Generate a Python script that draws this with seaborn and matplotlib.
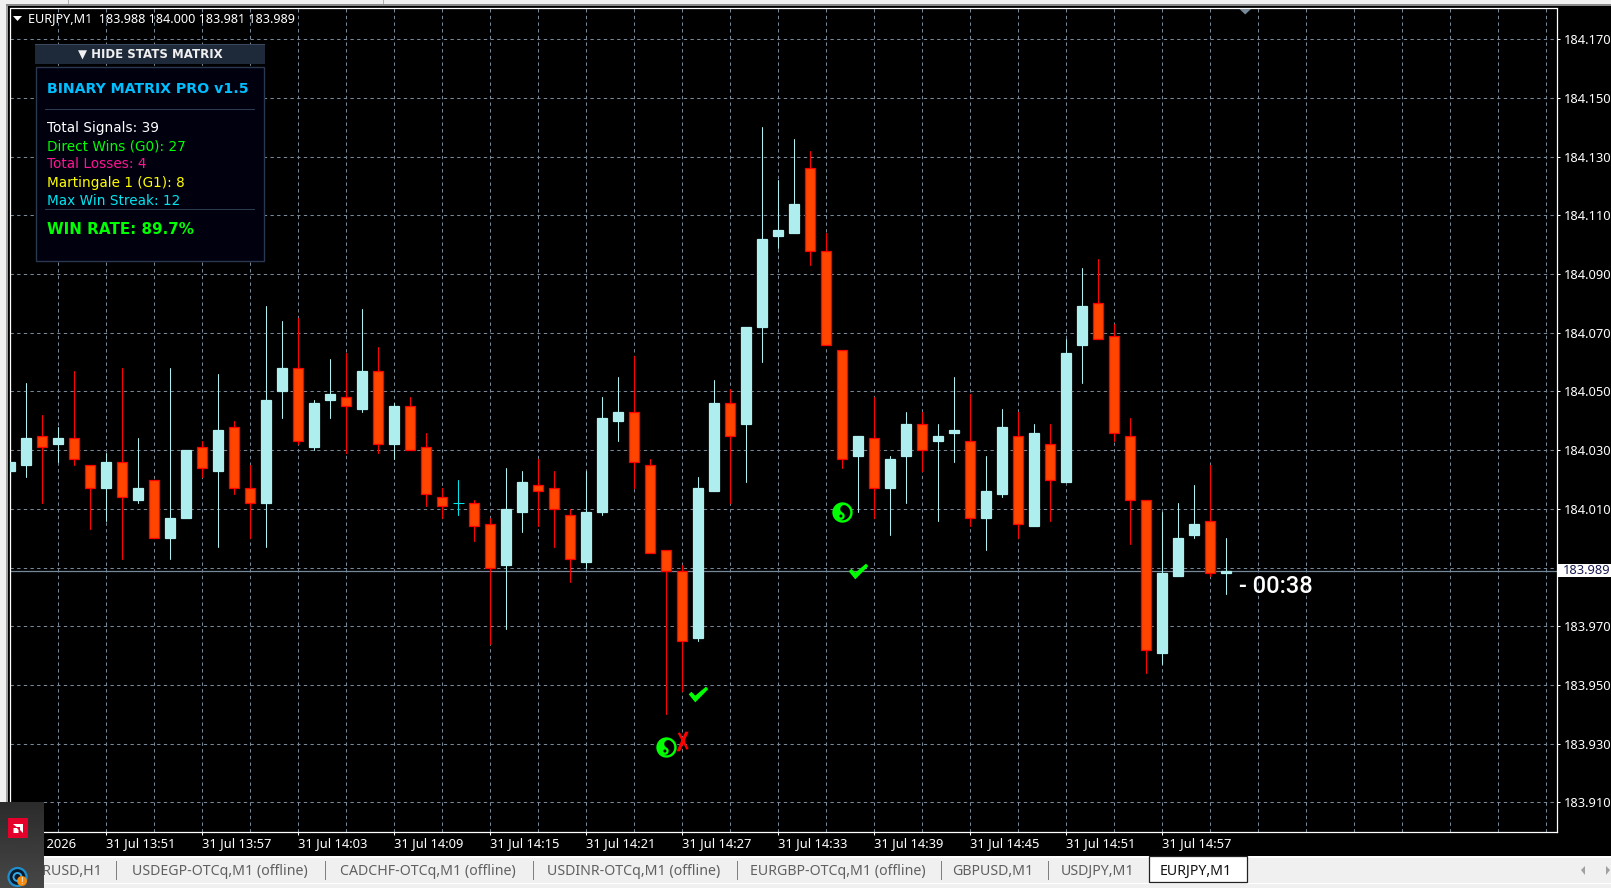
import matplotlib
matplotlib.use('Agg')
import matplotlib.pyplot as plt
from matplotlib.patches import Rectangle, Polygon, Circle
from matplotlib.path import Path
import numpy as np
import pandas as pd
import seaborn as sns

W, H = 1611, 888

opens = [184.023, 184.025, 184.035, 184.032, 184.034, 184.025, 184.017, 184.026, 184.013, 184.020,
         184.000, 184.007, 184.031, 184.023, 184.038, 184.017, 184.012, 184.050, 184.058, 184.031,
         184.047, 184.048, 184.044, 184.057, 184.032, 184.045, 184.031, 184.014, 184.012, 184.012,
         184.005, 183.991, 184.009, 184.018, 184.017, 184.008, 183.992, 184.009, 184.040, 184.043,
         184.025, 183.996, 183.989, 183.966, 184.016, 184.046, 184.039, 184.072, 184.103, 184.104,
         184.126, 184.098, 184.064, 184.028, 184.034, 184.017, 184.028, 184.039, 184.033, 184.036,
         184.033, 184.007, 184.015, 184.035, 184.004, 184.032, 184.019, 184.066, 184.080, 184.069,
         184.035, 184.013, 183.961, 183.987, 184.001, 184.006, 183.988]
closes = [184.026, 184.034, 184.031, 184.034, 184.027, 184.017, 184.026, 184.014, 184.017, 184.000,
          184.007, 184.030, 184.024, 184.037, 184.017, 184.012, 184.047, 184.058, 184.033, 184.046,
          184.049, 184.045, 184.057, 184.032, 184.045, 184.030, 184.015, 184.011, 184.012, 184.004,
          183.990, 184.010, 184.019, 184.016, 184.010, 183.993, 184.009, 184.041, 184.043, 184.026,
          183.995, 183.989, 183.965, 184.017, 184.046, 184.035, 184.072, 184.102, 184.105, 184.114,
          184.098, 184.066, 184.027, 184.035, 184.017, 184.027, 184.039, 184.030, 184.035, 184.037,
          184.007, 184.016, 184.038, 184.005, 184.036, 184.020, 184.063, 184.079, 184.068, 184.036,
          184.013, 183.962, 183.988, 184.000, 184.005, 183.988, 183.989]
highs = [184.052, 184.053, 184.042, 184.038, 184.057, 184.025, 184.029, 184.058, 184.034, 184.020,
         184.058, 184.030, 184.033, 184.056, 184.040, 184.025, 184.079, 184.074, 184.075, 184.047,
         184.061, 184.063, 184.078, 184.065, 184.046, 184.048, 184.036, 184.017, 184.020, 184.013,
         184.007, 184.024, 184.023, 184.027, 184.023, 184.010, 184.023, 184.048, 184.055, 184.062,
         184.027, 183.996, 183.991, 184.021, 184.054, 184.051, 184.072, 184.140, 184.122, 184.136,
         184.132, 184.104, 184.064, 184.035, 184.048, 184.028, 184.043, 184.043, 184.039, 184.055,
         184.049, 184.028, 184.044, 184.043, 184.039, 184.039, 184.068, 184.092, 184.095, 184.073,
         184.041, 184.013, 184.009, 184.012, 184.018, 184.025, 184.000]
lows = [184.020, 184.021, 184.012, 184.026, 184.025, 184.003, 184.006, 183.993, 184.012, 184.000,
        183.993, 184.007, 184.021, 183.997, 184.015, 184.000, 183.997, 184.041, 184.032, 184.030,
        184.041, 184.029, 184.043, 184.029, 184.027, 184.030, 184.011, 184.007, 184.008, 183.999,
        183.964, 183.969, 184.002, 184.004, 183.997, 183.985, 183.990, 184.008, 184.033, 184.017,
        183.995, 183.940, 183.948, 183.965, 184.016, 184.012, 184.019, 184.060, 184.099, 184.104,
        184.093, 184.066, 184.024, 184.009, 184.007, 184.001, 184.012, 184.023, 184.006, 184.026,
        184.004, 183.996, 184.014, 184.000, 184.004, 184.006, 184.019, 184.053, 184.068, 184.033,
        183.998, 183.954, 183.957, 183.987, 184.000, 183.987, 183.981]

price_ticks = [184.170, 184.150, 184.130, 184.110, 184.090, 184.070, 184.050,
               184.030, 184.010, 183.990, 183.970, 183.950, 183.930, 183.910]
time_labels = ['31 Jul 2026', '31 Jul 13:51', '31 Jul 13:57', '31 Jul 14:03', '31 Jul 14:09',
               '31 Jul 14:15', '31 Jul 14:21', '31 Jul 14:27', '31 Jul 14:33', '31 Jul 14:39',
               '31 Jul 14:45', '31 Jul 14:51', '31 Jul 14:57']
last_price = 183.989
countdown = '- 00:38'
header = 'EURJPY,M1  183.988 184.000 183.981 183.989'

signal_bars = [41, 52]
signal_prices = [183.929, 184.009]
win_bars = [43, 53]
win_prices = [183.947, 183.989]
loss_bars = [42]
loss_prices = [183.931]

tab_names = ['EURUSD,H1', 'USDEGP-OTCq,M1 (offline)', 'CADCHF-OTCq,M1 (offline)', 'USDINR-OTCq,M1 (offline)',
             'EURGBP-OTCq,M1 (offline)', 'GBPUSD,M1', 'USDJPY,M1', 'EURJPY,M1']
tab_right = [103, 308, 516, 720, 926, 1033, 1134, 1232]
tab_seps = [116, 324.5, 532.7, 736.7, 940.6, 1048]

stat_lines = ['Total Signals: 39', 'Direct Wins (G0): 27', 'Total Losses: 4', 'Martingale 1 (G1): 8', 'Max Win Streak: 12']
stat_colors = ['#FFFFFF', '#00FF00', '#FF1493', '#FFFF00', '#00E5EE']
stat_y = [128.2, 146.5, 164.5, 182.5, 200.5]

BULL = '#AFEEEE'
BEAR = '#FF4500'
GRID = '#778899'
LIME = '#00FF00'

sns.set_theme(style='dark', rc={'axes.facecolor': 'black', 'figure.facecolor': 'black',
                                'axes.edgecolor': 'white', 'text.color': 'white'})
plt.rcParams['font.family'] = ['Noto Sans', 'DejaVu Sans']

fig = plt.figure(figsize=(W / 100, H / 100), dpi=100)
ax = fig.add_axes([10 / W, 1 - 832.3 / H, (1556.7 - 10) / W, (832.3 - 8.5) / H], zorder=1)

df = pd.DataFrame({'bar': np.arange(len(opens)), 'open': opens, 'high': highs, 'low': lows, 'close': closes})
df['top'] = df[['open', 'close']].max(axis=1)
df['bottom'] = df[['open', 'close']].min(axis=1)
df['body'] = df['top'] - df['bottom']
df['kind'] = np.where(df['body'] < 1e-9, 'doji', np.where(df['close'] > df['open'], 'bull', 'bear'))

wicks = df.melt(id_vars=['bar', 'kind'], value_vars=['low', 'high'], value_name='price')
for kind, col in [('bull', BULL), ('bear', '#FF0000'), ('doji', '#00E5EE')]:
    sns.lineplot(data=wicks[wicks['kind'] == kind], x='bar', y='price', units='bar', estimator=None,
                 color=col, linewidth=0.75, sort=False, ax=ax, zorder=2)

for kind, fill, edge in [('bull', BULL, BULL), ('bear', BEAR, '#FF0000')]:
    part = df[df['kind'] == kind]
    sns.barplot(data=part, x='bar', y='body', bottom=part['bottom'].to_numpy(), native_scale=True,
                errorbar=None, color=fill, saturation=1, edgecolor=edge, linewidth=0.9,
                width=0.62, legend=False, ax=ax, zorder=3)

doji = df[df['kind'] == 'doji']
ax.hlines(doji['close'], doji['bar'] - 0.33, doji['bar'] + 0.33, color='#00E5EE', linewidth=0.75, zorder=3)

# current price line, sits under the candles
ax.axhline(last_price, color=GRID, linewidth=0.9, zorder=1.5)


def ring(cx, cy, r, a0, a1, n=24):
    t = np.radians(np.linspace(a0, a1, n))
    return np.column_stack([cx + r * np.cos(t), cy + r * np.sin(t)])


# marker shapes: tick, slanted cross, and the yin-yang built from a black comma on a green disc
tick_mark = Path([(-1, 0.02), (-0.72, 0.28), (-0.33, -0.12), (0.76, 0.8), (1, 0.55), (-0.33, -0.8), (-1, 0.02)], closed=True)
cross_mark = Path.make_compound_path(
    Path([(-0.62, -1), (-0.25, -1), (0.62, 1), (0.28, 1), (-0.62, -1)], closed=True),
    Path([(-0.48, 0.82), (0.42, -0.85), (0.62, -0.72), (-0.28, 0.95), (-0.48, 0.82)], closed=True))
rot = 25
up = np.array([np.cos(np.radians(90 - rot)), np.sin(np.radians(90 - rot))])
comma = np.vstack([ring(0, 0, 1, 90 - rot, -90 - rot),
                   ring(-up[0] * 0.5, -up[1] * 0.5, 0.5, -90 - rot, 90 - rot, 14),
                   ring(up[0] * 0.5, up[1] * 0.5, 0.5, -90 - rot, -270 - rot, 14)])
eye = ring(up[0] * 0.5, up[1] * 0.5, 0.2, 0, 360, 14)
dark_eye = ring(-up[0] * 0.5, -up[1] * 0.5, 0.2, 0, 360, 14)
comma_mark = Path.make_compound_path(Path(comma, closed=True), Path(eye[::-1], closed=True))
dark_eye_mark = Path.make_compound_path(Path(dark_eye, closed=True), Path([(1, 1), (-1, -1)], [Path.MOVETO, Path.MOVETO]))

sns.scatterplot(x=signal_bars, y=signal_prices, marker='o', s=215, color=LIME, linewidth=0, ax=ax, zorder=4)
sns.scatterplot(x=signal_bars, y=signal_prices, marker=comma_mark, s=125, color='black', linewidth=0, ax=ax, zorder=5)
sns.scatterplot(x=signal_bars, y=signal_prices, marker=dark_eye_mark, s=125, color='black', linewidth=0, ax=ax, zorder=5)
sns.scatterplot(x=win_bars, y=win_prices, marker=tick_mark, s=200, color=LIME, linewidth=0, ax=ax, zorder=4)
sns.scatterplot(x=loss_bars, y=loss_prices, marker=cross_mark, s=200, color='#FF0000', linewidth=0, ax=ax, zorder=6)

ax.set_xlim(-0.02, 96.65)
ax.set_ylim(183.8998, 184.1805)
ax.set_xlabel('')
ax.set_ylabel('')

major = list(range(0, 73, 6))
minor = [k for k in range(3, 97, 3) if k not in major]
ax.set_xticks(major)
ax.set_xticklabels(time_labels, ha='left', color='white', fontsize=9.3)
ax.set_xticks(minor, minor=True)
ax.yaxis.tick_right()
ax.set_yticks(price_ticks)
ax.set_yticklabels(['%.3f' % p for p in price_ticks], color='white', fontsize=9.3)
ax.tick_params(axis='x', which='major', length=2.5, width=0.75, color='white', pad=0.8, bottom=True)
ax.tick_params(axis='x', which='minor', length=0)
ax.tick_params(axis='y', length=2.5, width=0.75, color='white', pad=2.6, right=True, left=False)
ax.grid(True, which='both', color=GRID, linestyle=(0, (3.2, 3.2)), linewidth=0.75)
ax.set_axisbelow(True)
for s in ax.spines.values():
    s.set_visible(True)
    s.set_color('white')
    s.set_linewidth(0.9)

# screen furniture, drawn in pixel coordinates on top of the chart
ui = fig.add_axes([0, 0, 1, 1], zorder=5)
ui.set_xlim(0, W)
ui.set_ylim(H, 0)
ui.axis('off')
ui.patch.set_alpha(0)


def box(x0, y0, x1, y1, **kw):
    kw.setdefault('linewidth', 0)
    ui.add_patch(Rectangle((x0, y0), x1 - x0, y1 - y0, **kw))


def label(x, y, s, **kw):
    kw.setdefault('va', 'center')
    ui.text(x, y, s, **kw)


# window edges
box(0, 0, W, 4.5, facecolor='#F0F0F0')
box(0, 4.5, W, 6.3, facecolor='#8A8A8A')
box(0, 0, 5.5, 856, facecolor='#F0F0F0')
box(5.5, 6, 7.5, 856, facecolor='#A0A0A0')
box(68, 0, 69, 4.5, facecolor='#B0B0B0')
box(383, 0, 384, 4.5, facecolor='#B0B0B0')

# tab bar
box(0, 856, W, H, facecolor='#F0F0F0')
box(0, 856, W, 857.5, facecolor='#FFFFFF')
box(0, 883, W, 884, facecolor='#FFFFFF')
for x in tab_seps:
    box(x, 861, x + 1, 880, facecolor='#808080')
box(1149, 856, 1246.7, 881.5, facecolor='white', edgecolor='#222222', linewidth=0.9)
for name, right in zip(tab_names, tab_right):
    active = name == 'EURJPY,M1'
    label(right, 871.5, name, ha='right', fontsize=10.2, color='#111111' if active else '#606060')
ui.add_patch(Polygon([(1581, 870), (1585, 866), (1585, 875)], facecolor='#A0A0A0', linewidth=0))
ui.add_patch(Polygon([(1610, 870), (1606, 866), (1606, 875)], facecolor='#A0A0A0', linewidth=0))

# taskbar popup in the corner
ui.imshow(np.linspace(0.17, 0.28, 32).reshape(-1, 1) + np.zeros((32, 4)), extent=(0, 44, H, 802), cmap='gray',
          vmin=0, vmax=1, aspect='auto', zorder=5)
ui.set_xlim(0, W)
ui.set_ylim(H, 0)
box(8, 818, 28, 838, facecolor='#E4002B', zorder=6)
ui.add_patch(Polygon([(13, 824), (23, 824), (23, 833), (20, 830), (20, 827), (16.5, 827)], facecolor='white', linewidth=0, zorder=7))
ui.add_patch(Polygon([(13.5, 828), (17, 828), (18.5, 830), (18.5, 833), (13.5, 833)], facecolor='white', linewidth=0, zorder=7))
ui.add_patch(Circle((17.5, 877), 9, facecolor='#0A1A2A', edgecolor='#1E90D0', linewidth=1.6, zorder=6))
ui.add_patch(Circle((17.5, 877), 4, facecolor='none', edgecolor='#35A8E8', linewidth=1.4, zorder=6))
ui.add_patch(Circle((22, 881), 5, facecolor='#F08A10', linewidth=0, zorder=7))
label(22, 881, '!', color='white', fontsize=7, ha='center', weight='bold', zorder=8)

# last price flag and countdown
box(1557.7, 564, W, 576.8, facecolor='white')
label(1563, 570.5, '%.3f' % last_price, color='#1A1A50', fontsize=9.3, ha='left')
label(1239, 586, countdown, color='white', fontsize=17, family='Roboto', weight='medium', ha='left')

# chart header
ui.add_patch(Polygon([(13, 16), (22, 16), (17.5, 21)], facecolor='white', linewidth=0))
label(28, 19, header, color='white', fontsize=9.1, ha='left')
ui.add_patch(Polygon([(1239.5, 9), (1251, 9), (1245.2, 14.5)], facecolor=GRID, linewidth=0))

# stats panel
box(35, 44, 264.5, 64, facecolor='#1E2A3A')
box(35, 44, 264.5, 45.5, facecolor='#3A4A5E')
label(150, 54.2, '\u25bc HIDE STATS MATRIX', color='#F0F0F0', fontsize=8.5, weight='bold', ha='center', family=['DejaVu Sans'])
box(35.5, 67.5, 264, 261, facecolor='#00000F', edgecolor='#2A3850', linewidth=1)
box(45, 108.6, 255, 109.6, facecolor='#2E3A50')
box(45, 209, 255, 210, facecolor='#2E3A50')
label(47, 89.3, 'BINARY MATRIX PRO v1.5', color='#00BFFF', fontsize=10.2, weight='bold', family=['DejaVu Sans'])
for txt, col, y in zip(stat_lines, stat_colors, stat_y):
    label(47, y, txt, color=col, fontsize=9.8, family=['DejaVu Sans'])
label(47, 229, 'WIN RATE: 89.7%', color=LIME, fontsize=10.9, weight='bold', family=['DejaVu Sans'])

fig.savefig('out.png', dpi=100, facecolor='black')
